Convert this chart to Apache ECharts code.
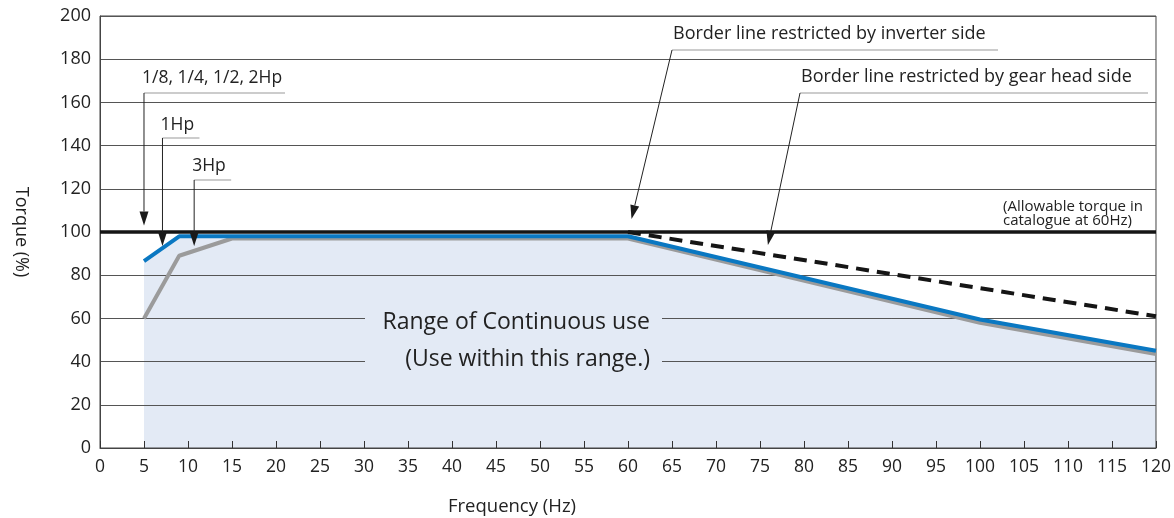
<!DOCTYPE html>
<html><head><meta charset="utf-8">
<script src="https://cdn.jsdelivr.net/npm/echarts@6/dist/echarts.min.js"></script>
<style>html,body{margin:0;padding:0;background:#fff}#c{width:1174px;height:518px}</style>
</head><body><div id="c"></div>
<script>
// ---- data ----
const xTicks = [0,5,10,15,20,25,30,35,40,45,50,55,60,65,70,75,80,85,90,95,100,105,110,115,120];
const yTicks = [0,20,40,60,80,100,120,140,160,180,200];
const blueFreq   = [5, 9, 60, 100, 120];
const blueTorque = [86.5, 98, 98, 59.5, 45];
const grayFreq   = [5, 9, 15, 60, 100, 120];
const grayTorque = [60, 89, 97, 97, 58, 43.5];
const gearFreq   = [60, 120];
const gearTorque = [100, 61];
const ratedFreq   = [0, 120];
const ratedTorque = [100, 100];

const FONT = '"Open Sans", "Noto Sans", sans-serif';
const pts = (xs, ys) => xs.map((x, i) => [x, ys[i]]);

const chart = echarts.init(document.getElementById('c'), null, {renderer: 'canvas'});
chart.setOption({
  animation: false,
  backgroundColor: '#fff',
  grid: {left: 100, right: 18, top: 16, bottom: 70, show: true, borderColor: '#444', borderWidth: 1, z: 2},
  xAxis: {
    type: 'value', min: xTicks[0], max: xTicks[xTicks.length-1], interval: xTicks[1]-xTicks[0], z: 2,
    axisLine: {lineStyle: {color: '#444', width: 1}},
    axisTick: {inside: true, length: 7, lineStyle: {color: '#333'}},
    axisLabel: {fontSize: 17.5, color: '#222', margin: 10, fontFamily: FONT},
    splitLine: {show: false}
  },
  yAxis: {
    type: 'value', min: yTicks[0], max: yTicks[yTicks.length-1], interval: yTicks[1]-yTicks[0], z: 2,
    name: 'Torque (%)', nameLocation: 'middle', nameRotate: -90, nameGap: 70,
    nameTextStyle: {fontSize: 18, color: '#222', fontFamily: FONT},
    axisLine: {show: true, lineStyle: {color: '#444', width: 1}},
    axisTick: {show: false},
    axisLabel: {fontSize: 18, color: '#222', margin: 9, fontFamily: FONT},
    splitLine: {lineStyle: {color: '#555', width: 1}}
  },
  series: [
    {type: 'line', data: pts(blueFreq, blueTorque), symbol: 'none', z: 1, silent: true,
     lineStyle: {width: 0}, areaStyle: {color: '#e3eaf5', opacity: 1}},
    {type: 'line', data: pts(grayFreq, grayTorque), symbol: 'none', z: 5,
     lineStyle: {width: 4, color: '#9b9b9b'}},
    {type: 'line', data: pts(blueFreq, blueTorque), symbol: 'none', z: 6,
     lineStyle: {width: 4, color: '#0a78c2'}},
    {type: 'line', data: pts(gearFreq, gearTorque), symbol: 'none', z: 7,
     lineStyle: {width: 4, color: '#151515', type: [13, 8]}},
    {type: 'line', data: pts(ratedFreq, ratedTorque), symbol: 'none', z: 8,
     lineStyle: {width: 3.5, color: '#151515'}}
  ]
});

// ---- annotations ----
const P = (x, y) => chart.convertToPixel({gridIndex: 0}, [x, y]);
const g = [];
function txt(s, x, y, size, align) {
  g.push({type: 'text', z: 20, style: {text: s, x: x, y: y, fill: '#222', font: size + 'px ' + FONT,
    textAlign: align || 'left', textVerticalAlign: 'middle'}});
}
function line(x1, y1, x2, y2, color, w) {
  g.push({type: 'line', z: 20, shape: {x1, y1, x2, y2}, style: {stroke: color, lineWidth: w}});
}
function arrow(fx, fy, tx, ty) {
  const dx = tx - fx, dy = ty - fy, L = Math.hypot(dx, dy), ux = dx / L, uy = dy / L;
  const len = 14, hw = 4.5;
  const bx = tx - ux * len, by = ty - uy * len;
  line(fx, fy, bx, by, '#222', 1);
  g.push({type: 'polygon', z: 20, shape: {points: [[tx, ty], [bx - uy * hw, by + ux * hw], [bx + uy * hw, by - ux * hw]]},
    style: {fill: '#1a1a1a'}});
}
function hpNote(label, tipHz, tipT, textY, lineY, lineLen) {
  const t = P(tipHz, tipT);
  txt(label, t[0] - 2, textY, 17.5);
  line(t[0], lineY, t[0] + lineLen, lineY, '#999', 1.2);
  arrow(t[0], lineY, t[0], t[1]);
}
hpNote('1/8, 1/4, 1/2, 2Hp', 5, 103, 78, 93, 141);
hpNote('1Hp', 7.1, 93.5, 125, 138, 37);
hpNote('3Hp', 10.7, 93.5, 166, 180, 37);

function borderNote(label, tx, ty, ulLeft, ulRight, ulY, tipHz, tipT) {
  txt(label, tx, ty, 18);
  line(ulLeft, ulY, ulRight, ulY, '#999', 1.2);
  const t = P(tipHz, tipT);
  arrow(ulLeft, ulY, t[0], t[1]);
}
borderNote('Border line restricted by inverter side', 673, 34, 672, 998, 50, 60.4, 106);
borderNote('Border line restricted by gear head side', 801, 77, 800, 1148, 93, 75.9, 94);

txt('(Allowable torque in', 1003, 207, 15);
txt('catalogue at 60Hz)', 1003, 221, 15);

g.push({type: 'rect', z: 15, shape: {x: 365, y: 306, width: 297, height: 70}, style: {fill: '#e3eaf5'}});
txt('Range of Continuous use', 650, 322, 23, 'right');
txt('(Use within this range.)', 650, 359, 23, 'right');

txt('Frequency (Hz)', 512, 507, 18.5, 'center');

chart.setOption({graphic: g});
</script></body></html>
